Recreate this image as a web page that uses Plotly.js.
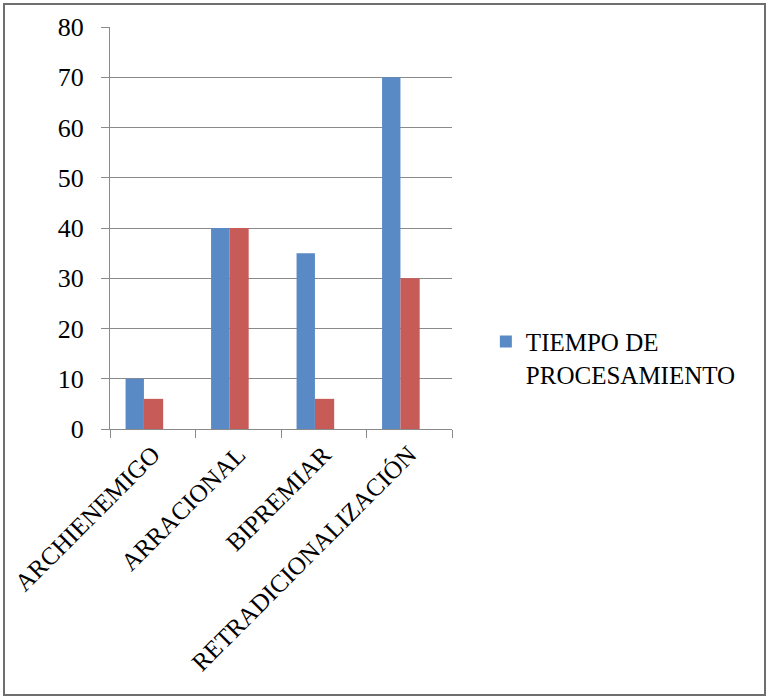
<!DOCTYPE html>
<html>
<head>
<meta charset="utf-8">
<script src="https://cdn.plot.ly/plotly-3.0.1.min.js"></script>
<style>
  html, body { margin: 0; padding: 0; background: #fff; }
  #wrap { position: relative; width: 767px; height: 698px; }
  #chart { position: absolute; left: 0; top: 0; width: 767px; height: 698px; }
  #frame {
    position: absolute; left: 3px; top: 3px; width: 759px; height: 689px;
    border: 2px solid #6e6e6e; pointer-events: none;
  }
</style>
</head>
<body>
<div id="wrap">
  <div id="chart"></div>
  <div id="frame"></div>
</div>
<script>
// Word list and measured values
const categories = ["ARCHIENEMIGO", "ARRACIONAL", "BIPREMIAR", "RETRADICIONALIZACIÓN"];
const tiempoProcesamiento = [10, 40, 35, 70];
const segundaSerie = [6, 40, 6, 30];
const seriesNames = ["TIEMPO DE<br>PROCESAMIENTO", ""];
const yTicks = [0, 10, 20, 30, 40, 50, 60, 70, 80];

const serif = "Liberation Serif, Times New Roman, serif";
const gridGrey = "#8a8a8a";

const traces = [
  {
    type: "bar",
    name: seriesNames[0],
    x: categories,
    y: tiempoProcesamiento,
    width: 0.215,
    offset: -0.318,
    marker: { color: "#5A8AC6", line: { width: 0 } },
    hoverinfo: "x+y"
  },
  {
    type: "bar",
    name: seriesNames[1],
    x: categories,
    y: segundaSerie,
    width: 0.225,
    offset: -0.103,
    showlegend: false,
    marker: { color: "#C65B57", line: { width: 0 } },
    hoverinfo: "x+y"
  }
];

const layout = {
  width: 767,
  height: 698,
  margin: { l: 110, r: 315, t: 27, b: 269, pad: 0 },
  paper_bgcolor: "#ffffff",
  plot_bgcolor: "#ffffff",
  barmode: "overlay",
  showlegend: true,
  font: { family: serif, size: 25, color: "#000" },
  xaxis: {
    type: "category",
    range: [-0.5, 3.5],
    tickson: "boundaries",
    ticks: "outside",
    ticklen: 8,
    tickcolor: gridGrey,
    tickwidth: 1,
    showline: true,
    linecolor: gridGrey,
    linewidth: 1,
    showgrid: false,
    tickangle: -45,
    tickfont: { family: serif, size: 25, color: "#000" },
    fixedrange: true
  },
  yaxis: {
    range: [0, 80],
    tickvals: yTicks,
    ticktext: yTicks.map(String),
    ticks: "outside",
    ticklen: 8,
    tickcolor: gridGrey,
    tickwidth: 1,
    ticklabelstandoff: 12,
    showline: true,
    linecolor: gridGrey,
    linewidth: 1,
    showgrid: true,
    gridcolor: gridGrey,
    gridwidth: 1,
    zeroline: false,
    tickfont: { family: serif, size: 26, color: "#000" },
    fixedrange: true
  },
  legend: {
    x: 1.099,
    xanchor: "left",
    y: 0.274,
    yanchor: "top",
    valign: "top",
    bgcolor: "rgba(0,0,0,0)",
    borderwidth: 0,
    font: { family: serif, size: 25, color: "#000" }
  }
};

Plotly.newPlot("chart", traces, layout, { displayModeBar: false, staticPlot: true });
</script>
</body>
</html>
